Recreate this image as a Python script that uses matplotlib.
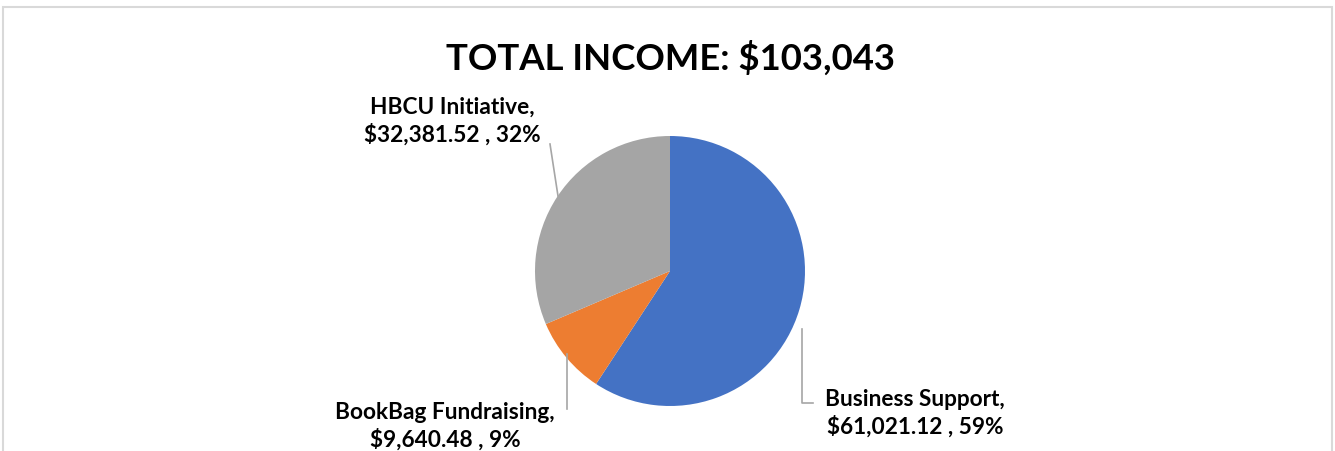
import matplotlib
matplotlib.use("Agg")
import matplotlib.pyplot as plt
from matplotlib.patches import Rectangle

categories = ["Business Support", "BookBag Fundraising", "HBCU Initiative"]
values = [61021.12, 9640.48, 32381.52]
percents = [59, 9, 32]
colors = ["#4472C4", "#ED7D31", "#A5A5A5"]
title = "TOTAL INCOME: $103,043"

W, H = 1335, 452
fig = plt.figure(figsize=(W / 100, H / 100), dpi=100)
ax = fig.add_axes([0, 0, 1, 1])

FONT = "Lato"

# border
fig.patches.append(Rectangle((3 / W, -0.1), (1332 - 3) / W, (H - 8) / H + 0.1,
                             transform=fig.transFigure, fill=False,
                             edgecolor="#D9D9D9", linewidth=1.5))

cx, cy, r = 670, H - 272, 135
ax.pie(values, colors=colors, startangle=90, counterclock=False,
       center=(cx, cy), radius=r, frame=True)
ax.set_xlim(0, W)
ax.set_ylim(0, H)
ax.set_aspect("equal")
ax.axis("off")

labels = [f"{c},\n${v:,.2f} , {p}%" for c, v, p in zip(categories, values, percents)]

label_pos = [(915, H - 413), (445, H - 426), (452, H - 121)]
for lab, (x, y) in zip(labels, label_pos):
    ax.text(x, y, lab, ha="center", va="center", fontsize=16.3, fontweight="bold",
            family=FONT, linespacing=1.3, color="black")

lc = "#A6A6A6"
ax.plot([802, 802, 813], [H - 330, H - 404, H - 404], color=lc, lw=1.2)
ax.plot([567, 567], [H - 355, H - 410], color=lc, lw=1.2)
ax.plot([550, 558], [H - 145, H - 197], color=lc, lw=1.2)

ax.text(670, H - 58, title, ha="center", va="center", fontsize=26.3,
        fontweight="bold", family=FONT, color="black")

fig.savefig("out.png", dpi=100)
